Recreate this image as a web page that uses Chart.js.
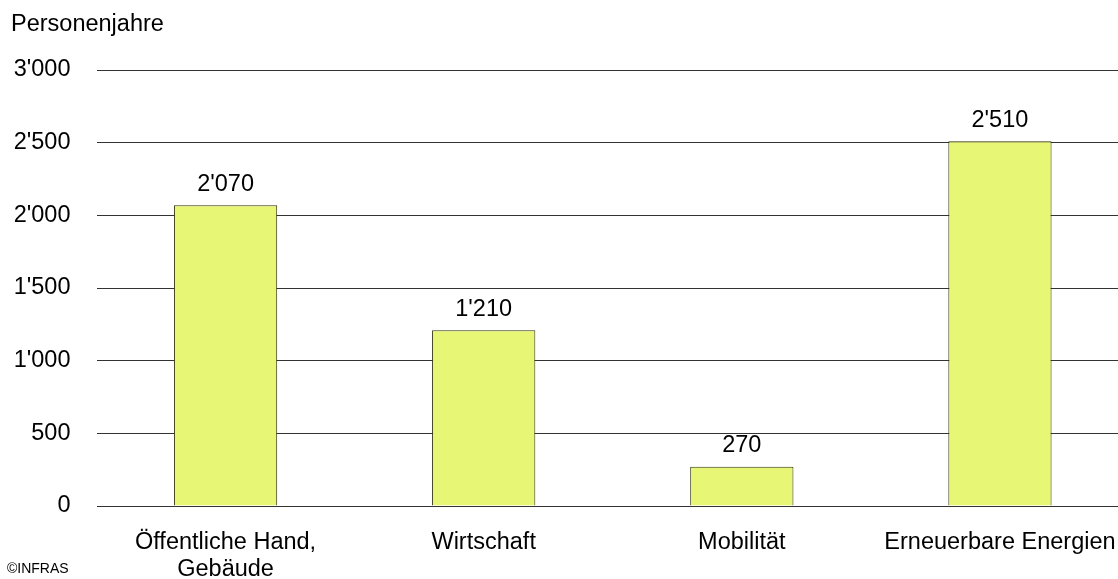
<!DOCTYPE html>
<html>
<head>
<meta charset="utf-8">
<script src="https://cdn.jsdelivr.net/npm/chart.js@4"></script>
<style>
  html, body { margin: 0; padding: 0; background: #fff; overflow: hidden; }
  #wrap { width: 1130px; height: 579px; position: relative; }
</style>
</head>
<body>
<div id="wrap"><canvas id="chart"></canvas></div>
<script>
// Daten
const categories = [['Öffentliche Hand,', 'Gebäude'], 'Wirtschaft', 'Mobilität', 'Erneuerbare Energien'];
const values = [2070, 1210, 270, 2510];
const yTicks = [0, 500, 1000, 1500, 2000, 2500, 3000];
const yTitle = 'Personenjahre';
const source = '©INFRAS';

const FONT = "'Liberation Sans', Arial, Helvetica, sans-serif";
const FS = 23.5;

// Tausendertrennzeichen mit Apostroph
function fmt(v) {
    return String(v).replace(/\B(?=(\d{3})+(?!\d))/g, "'");
}

// Werte über den Balken + Achsentitel + Quelle
const extras = {
    id: 'extras',
    afterDatasetsDraw(chart) {
        const c = chart.ctx;
        c.save();
        c.fillStyle = '#000';
        c.font = FS + 'px ' + FONT;
        c.textAlign = 'center';
        c.textBaseline = 'bottom';
        chart.getDatasetMeta(0).data.forEach((bar, i) => {
            c.fillText(fmt(values[i]), bar.x, bar.y - 9);
        });
        c.textAlign = 'left';
        c.textBaseline = 'middle';
        c.fillText(yTitle, 11, 25);
        c.font = '14px ' + FONT;
        c.fillText(source, 7, 569);
        c.restore();
    }
};

new Chart(document.getElementById('chart'), {
    type: 'bar',
    data: {
        labels: categories,
        datasets: [{
            data: values,
            backgroundColor: '#e7f674',
            borderColor: '#33330d',
            borderWidth: 1,
            barPercentage: 0.4,
            categoryPercentage: 1
        }]
    },
    options: {
        responsive: true,
        maintainAspectRatio: false,
        animation: false,
        layout: { padding: { top: 70, right: 1, bottom: 0, left: 0 } },
        plugins: {
            legend: { display: false },
            tooltip: { enabled: false }
        },
        scales: {
            x: {
                grid: { display: false, drawTicks: false },
                border: { display: false },
                afterFit: (scale) => {
                    scale.height = 73;
                    scale.paddingLeft = 0;
                    scale.paddingRight = 0;
                },
                ticks: {
                    color: '#000',
                    font: { family: FONT, size: FS, lineHeight: 1.15 },
                    padding: 23,
                    maxRotation: 0,
                    autoSkip: false
                }
            },
            y: {
                min: yTicks[0],
                max: yTicks[yTicks.length - 1],
                afterBuildTicks: (scale) => { scale.ticks = yTicks.map(v => ({ value: v })); },
                afterFit: (scale) => { scale.width = 96.5; },
                grid: { color: '#333', lineWidth: 1, drawTicks: false },
                border: { display: false },
                ticks: {
                    color: '#000',
                    font: { family: FONT, size: FS },
                    padding: 26,
                    callback: (v) => fmt(v)
                }
            }
        }
    },
    plugins: [extras]
});
</script>
</body>
</html>
